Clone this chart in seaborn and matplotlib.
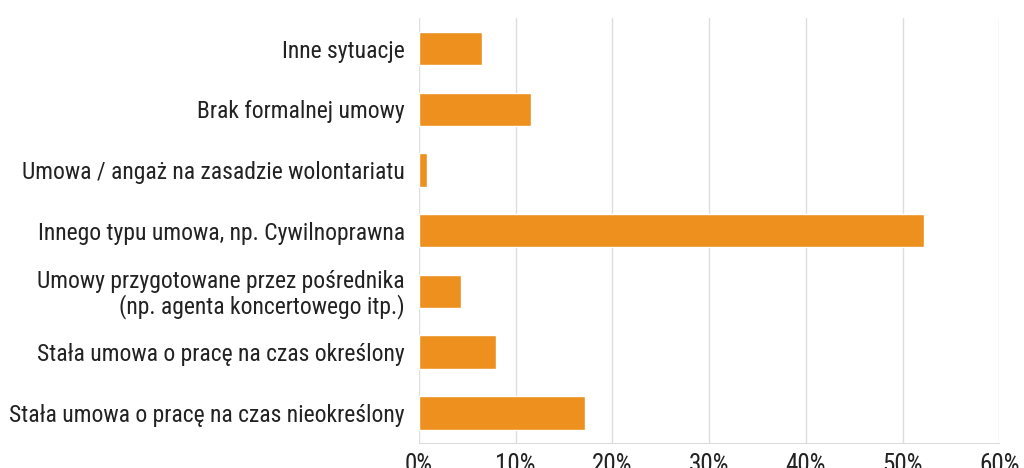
import matplotlib
matplotlib.use("Agg")
import matplotlib.pyplot as plt
import seaborn as sns
import pandas as pd
from matplotlib.ticker import PercentFormatter

categories = [
    "Inne sytuacje",
    "Brak formalnej umowy",
    "Umowa / angaż na zasadzie wolontariatu",
    "Innego typu umowa, np. Cywilnoprawna",
    "Umowy przygotowane przez pośrednika\n(np. agenta koncertowego itp.)",
    "Stała umowa o pracę na czas określony",
    "Stała umowa o pracę na czas nieokreślony",
]
values = [6.5, 11.6, 0.8, 52.2, 4.4, 8.0, 17.2]
x_ticks = [0, 10, 20, 30, 40, 50, 60]

df = pd.DataFrame({"kategoria": categories, "procent": values})

sns.set_style("white")
plt.rcParams['font.family'] = ['Roboto Condensed', 'Roboto', 'DejaVu Sans']

fig = plt.figure(figsize=(10.24, 4.68), dpi=100)
ax = fig.add_axes([0.409, 0.053, 0.567, 0.908])

sns.barplot(data=df, y="kategoria", x="procent", color="#EE901E",
            saturation=1, width=0.55, ax=ax)

ax.set_xlim(0, 60)
ax.set_xticks(x_ticks)
ax.xaxis.set_major_formatter(PercentFormatter(decimals=0))
ax.grid(axis="x", color="#dddddd", linewidth=1)
ax.set_axisbelow(True)
ax.set_xlabel("")
ax.set_ylabel("")
for s in ["top", "right", "left"]:
    ax.spines[s].set_visible(False)
ax.spines["bottom"].set_color("#dddddd")
ax.tick_params(axis="y", length=0, pad=10, labelsize=17, labelcolor="#222222")
ax.tick_params(axis="x", length=0, pad=7, labelsize=18, labelcolor="#222222")
for lbl in ax.get_yticklabels():
    lbl.set_horizontalalignment("right")
    lbl.set_linespacing(1.05)

fig.savefig("out.png", dpi=100)
